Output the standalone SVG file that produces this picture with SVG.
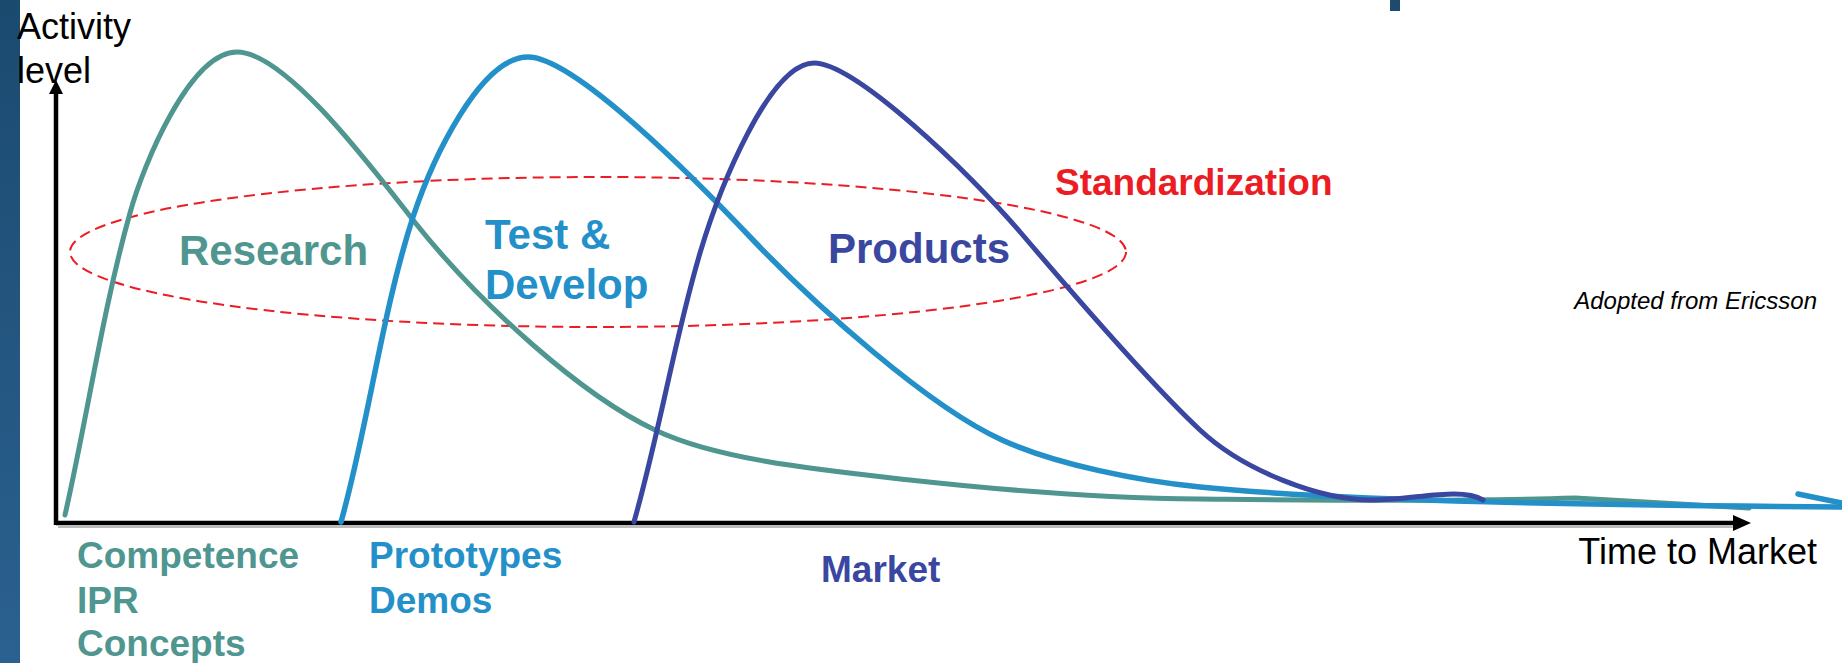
<svg xmlns="http://www.w3.org/2000/svg" width="1842" height="663" viewBox="0 0 1842 663">
<style>
.c{fill:none;stroke-linecap:round;stroke-linejoin:round}
.teal{stroke:#4e968f;stroke-width:5}
.lb{stroke:#2490c9;stroke-width:5.5}
.db{stroke:#3a47a1;stroke-width:5}
.ax{stroke:#000;stroke-width:4.5;fill:none}
.lbl{font-family:"Liberation Sans",Arial,sans-serif;font-weight:bold}
.blk{font-family:"Liberation Sans",Arial,sans-serif;fill:#000}
.tealt{fill:#4e968f}
.lbt{fill:#2490c9}
.dbt{fill:#3a47a1}
</style>
<defs>
<linearGradient id="bar" x1="0" y1="0" x2="0" y2="1">
<stop offset="0" stop-color="#1b4a6f"/>
<stop offset="1" stop-color="#2b6190"/>
</linearGradient>
</defs>
<rect x="0" y="0" width="1842" height="663" fill="#fff"/>
<rect x="0" y="0" width="20" height="663" fill="url(#bar)"/>
<rect x="1390" y="0" width="10" height="11" fill="#1d4a6e"/>

<g id="axes">
<line x1="58" y1="527" x2="1733" y2="527" stroke="#bbb" stroke-width="2"/>
<line class="ax" x1="56" y1="523" x2="1735" y2="523"/>
<polygon points="1733,515 1751,523 1733,531" fill="#000"/>
<line class="ax" x1="56" y1="525" x2="56" y2="92"/>
<polygon points="49,94 56,80 63,94" fill="#000"/>
</g>

<g id="standardization">
<ellipse cx="598" cy="252" rx="528" ry="75" fill="none" stroke="#ec1c24" stroke-width="2" stroke-dasharray="11,6"/>
<text class="lbl" x="1055" y="195" font-size="37" fill="#ec1c24">Standardization</text>
</g>

<g id="connectors">
<path class="c teal" d="M65,515 C87,418 103,309 130,213 C143,165 190,52 237,52 C285,52 370,165 413,220 C481,306 583,396 655,430 C718,460 820,470 910,480 C1000,490 1100,498 1200,499 C1300,500 1450,502 1575,498 L1749,508"/>
<path class="c lb" d="M341,522 C368,426 382,312 413,217 C432,160 480,57 528,57 C575,57 698,182 753,240 C815,305 929,407 1002,440 C1057,465 1140,481 1200,487 C1350,502 1600,505 1842,507"/>
<path class="c lb" d="M1798,494 L1842,503"/>
<path class="c db" d="M634,522 C661,426 674,341 700,253 C720,186 770,63 814,63 C855,63 969,172 1021,233 C1073,294 1156,389 1200,430 C1244,471 1320,500 1372,500 C1400,500 1430,494 1454,494 C1470,494 1478,497 1483,500"/>
</g>

<g id="research">
<text class="lbl tealt" x="179" y="265" font-size="42">Research</text>
<text class="lbl tealt" font-size="37"><tspan x="77" y="568">Competence</tspan><tspan x="77" y="613">IPR</tspan><tspan x="77" y="656">Concepts</tspan></text>
</g>

<g id="testdevelop">
<text class="lbl lbt" font-size="42"><tspan x="485" y="249">Test &amp;</tspan><tspan x="485" y="299">Develop</tspan></text>
<text class="lbl lbt" font-size="37"><tspan x="369" y="568">Prototypes</tspan><tspan x="369" y="613">Demos</tspan></text>
</g>

<g id="products">
<text class="lbl dbt" x="828" y="263" font-size="42">Products</text>
<text class="lbl dbt" x="821" y="582" font-size="37">Market</text>
</g>

<g id="labels">
<text class="blk" font-size="36"><tspan x="17" y="39">Activity</tspan><tspan x="17" y="83">level</tspan></text>
<text class="blk" x="1817" y="564" font-size="36" text-anchor="end">Time to Market</text>
<text class="blk" x="1817" y="309" font-size="24" font-style="italic" text-anchor="end">Adopted from Ericsson</text>
</g>
</svg>
